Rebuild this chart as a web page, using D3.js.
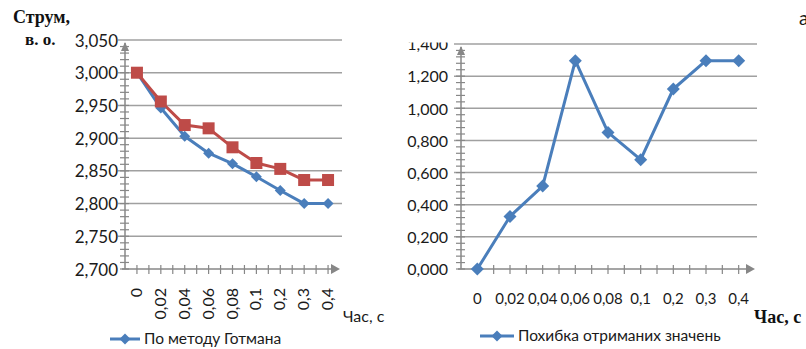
<!DOCTYPE html>
<html><head><meta charset="utf-8">
<script src="https://cdn.jsdelivr.net/npm/d3@7"></script>
<style>
html,body{margin:0;padding:0;background:#fff;}
svg{display:block;}
text{font-family:Lato, "Open Sans", sans-serif;fill:#1a1a1a;}
.serif{font-family:"Liberation Serif","DejaVu Serif",serif;font-weight:bold;fill:#111;}
</style></head>
<body>
<script>
const categories = ["0","0,02","0,04","0,06","0,08","0,1","0,2","0,3","0,4"];
const gotmanValues = [3.000, 2.946, 2.903, 2.877, 2.861, 2.841, 2.820, 2.800, 2.800];
const secondValues = [3.000, 2.956, 2.920, 2.915, 2.886, 2.862, 2.853, 2.836, 2.836];
const errorValues = [0.000, 0.327, 0.516, 1.296, 0.850, 0.680, 1.120, 1.296, 1.296];
const leftYTicks = [2.70, 2.75, 2.80, 2.85, 2.90, 2.95, 3.00, 3.05];
const rightYTicks = [0, 0.2, 0.4, 0.6, 0.8, 1.0, 1.2, 1.4];
const leftLegend = "По методу Готмана";
const rightLegend = "Похибка отриманих значень";

const W = 806, H = 349;
const blue = "#4A7EBB", red = "#BE4B48", grid = "#A0A0A0", axisC = "#878787";
const fmt = d3.formatLocale({decimal:",", thousands:" ", grouping:[3], currency:["",""]}).format(".3f");

const svg = d3.select("body").append("svg").attr("width", W).attr("height", H);
const defs = svg.append("defs");
defs.append("clipPath").attr("id","rclip").append("rect").attr("x",-80).attr("y",42.5).attr("width",100).attr("height",300);

function diamond(g, x, y, s, color){
  g.append("path").attr("d", `M${x},${y-s}L${x+s},${y}L${x},${y+s}L${x-s},${y}Z`).attr("fill", color);
}

function drawChart(opt){
  const g = svg.append("g");
  const x = d3.scaleBand().domain(categories).range(opt.xRange).padding(0);
  const y = d3.scaleLinear().domain(opt.yDomain).range(opt.yRange);
  g.selectAll(".grid").data(opt.yTicks.slice(1)).enter().append("line")
    .attr("x1", opt.gridX0).attr("x2", opt.xRange[1]+2)
    .attr("y1", d=>y(d)).attr("y2", d=>y(d))
    .attr("stroke", grid).attr("stroke-width", 1.5);
  const yl = g.append("g").attr("transform", `translate(${opt.labelX},0)`)
    .call(d3.axisLeft(y).tickValues(opt.yTicks).tickFormat(fmt).tickSize(0).tickPadding(0));
  yl.select(".domain").remove();
  yl.selectAll("text").attr("font-family","Lato").attr("font-size",opt.yFont).attr("fill","#1a1a1a").attr("dy","0.36em");
  if (opt.clip) yl.attr("clip-path","url(#rclip)");
  const ax = opt.xRange[0];
  g.append("line").attr("x1",ax).attr("x2",ax).attr("y1",y(opt.yDomain[0])).attr("y2",opt.yRange[1]+3)
    .attr("stroke",axisC).attr("stroke-width",1.5);
  const step = (opt.yTicks[1]-opt.yTicks[0])/5;
  const minor = d3.range(0, Math.round((opt.yDomain[1]-opt.yDomain[0])/step)).map(i=>opt.yDomain[0]+i*step);
  g.selectAll(".ytk").data(minor).enter().append("line")
    .attr("x1",ax-5).attr("x2",ax+4).attr("y1",d=>y(d)).attr("y2",d=>y(d))
    .attr("stroke",axisC).attr("stroke-width",1.2);
  const ay = opt.yRange[1]+2;
  g.append("path").attr("d",`M${ax-4},${ay+9}L${ax},${ay}L${ax+4},${ay+9}Z`).attr("fill",axisC);
  const by = y(opt.yDomain[0]);
  g.append("line").attr("x1",ax-3).attr("x2",opt.xRange[1]-2).attr("y1",by).attr("y2",by)
    .attr("stroke",axisC).attr("stroke-width",1.5);
  const half = x.bandwidth()/2;
  const xt = d3.range(1, categories.length*2).map(i=>opt.xRange[0]+i*half);
  g.selectAll(".xtk").data(xt).enter().append("line")
    .attr("x1",d=>d).attr("x2",d=>d).attr("y1",by-4).attr("y2",by+5)
    .attr("stroke",axisC).attr("stroke-width",1.2);
  const ex = opt.xRange[1];
  g.append("path").attr("d",`M${ex-9},${by-5}L${ex},${by}L${ex-9},${by+5}Z`).attr("fill",axisC);
  const xl = g.selectAll(".xl").data(categories).enter().append("text")
    .attr("font-size",opt.xFont);
  if (opt.rotate){
    xl.attr("transform", d=>`translate(${x(d)+half+5},${opt.xLabelY}) rotate(-90)`)
      .attr("text-anchor","end").text(d=>d);
  } else {
    xl.attr("x", d=>x(d)+half).attr("y", opt.xLabelY).attr("text-anchor","middle").text(d=>d);
  }
  const line = d3.line().x((d,i)=>x(categories[i])+half).y(d=>y(d));
  opt.series.forEach(s=>{
    g.append("path").datum(s.values).attr("d",line).attr("fill","none")
      .attr("stroke",s.color).attr("stroke-width",3).attr("stroke-linejoin","round");
  });
  opt.series.forEach(s=>{
    s.values.forEach((v,i)=>{
      const cx = x(categories[i])+half, cy = y(v);
      if (s.marker==="square"){
        g.append("rect").attr("x",cx-6).attr("y",cy-6).attr("width",12).attr("height",12).attr("fill",s.color);
      } else diamond(g, cx, cy, s.msize, s.color);
    });
  });
  return g;
}

drawChart({xRange:[125,340], yDomain:[2.7,3.05], yRange:[269,40], yTicks:leftYTicks, gridX0:118, labelX:118,
  yFont:17, xFont:16, rotate:true, xLabelY:288,
  series:[{values:gotmanValues,color:blue,marker:"diamond",msize:5.5},{values:secondValues,color:red,marker:"square"}]});
drawChart({xRange:[461,755], yDomain:[0,1.4], yRange:[269,44], yTicks:rightYTicks, gridX0:454, labelX:448, clip:true,
  yFont:16, xFont:15, rotate:false, xLabelY:304,
  series:[{values:errorValues,color:blue,marker:"diamond",msize:6.5}]});

svg.append("text").attr("class","serif").attr("x",13).attr("y",23).attr("font-size",18).text("Струм,");
svg.append("text").attr("class","serif").attr("x",25).attr("y",45).attr("font-size",17).text("в. о.");
svg.append("text").attr("x",343).attr("y",322).attr("font-size",16).attr("font-family","Lato").text("Час, с");
svg.append("text").attr("class","serif").attr("x",754).attr("y",323).attr("font-size",18).text("Час, с");
svg.append("text").attr("x",799).attr("y",25).attr("font-size",19).text("а");

function legend(x0, x1, yy, label, ms){
  svg.append("line").attr("x1",x0).attr("x2",x1).attr("y1",yy).attr("y2",yy).attr("stroke",blue).attr("stroke-width",3);
  diamond(svg, (x0+x1)/2, yy, ms, blue);
  svg.append("text").attr("x",x1+4).attr("y",yy+5).attr("font-size",15.5).text(label);
}
legend(110,140,339,leftLegend,5.5);
legend(480,514,336,rightLegend,5.5);
</script>
</body></html>
